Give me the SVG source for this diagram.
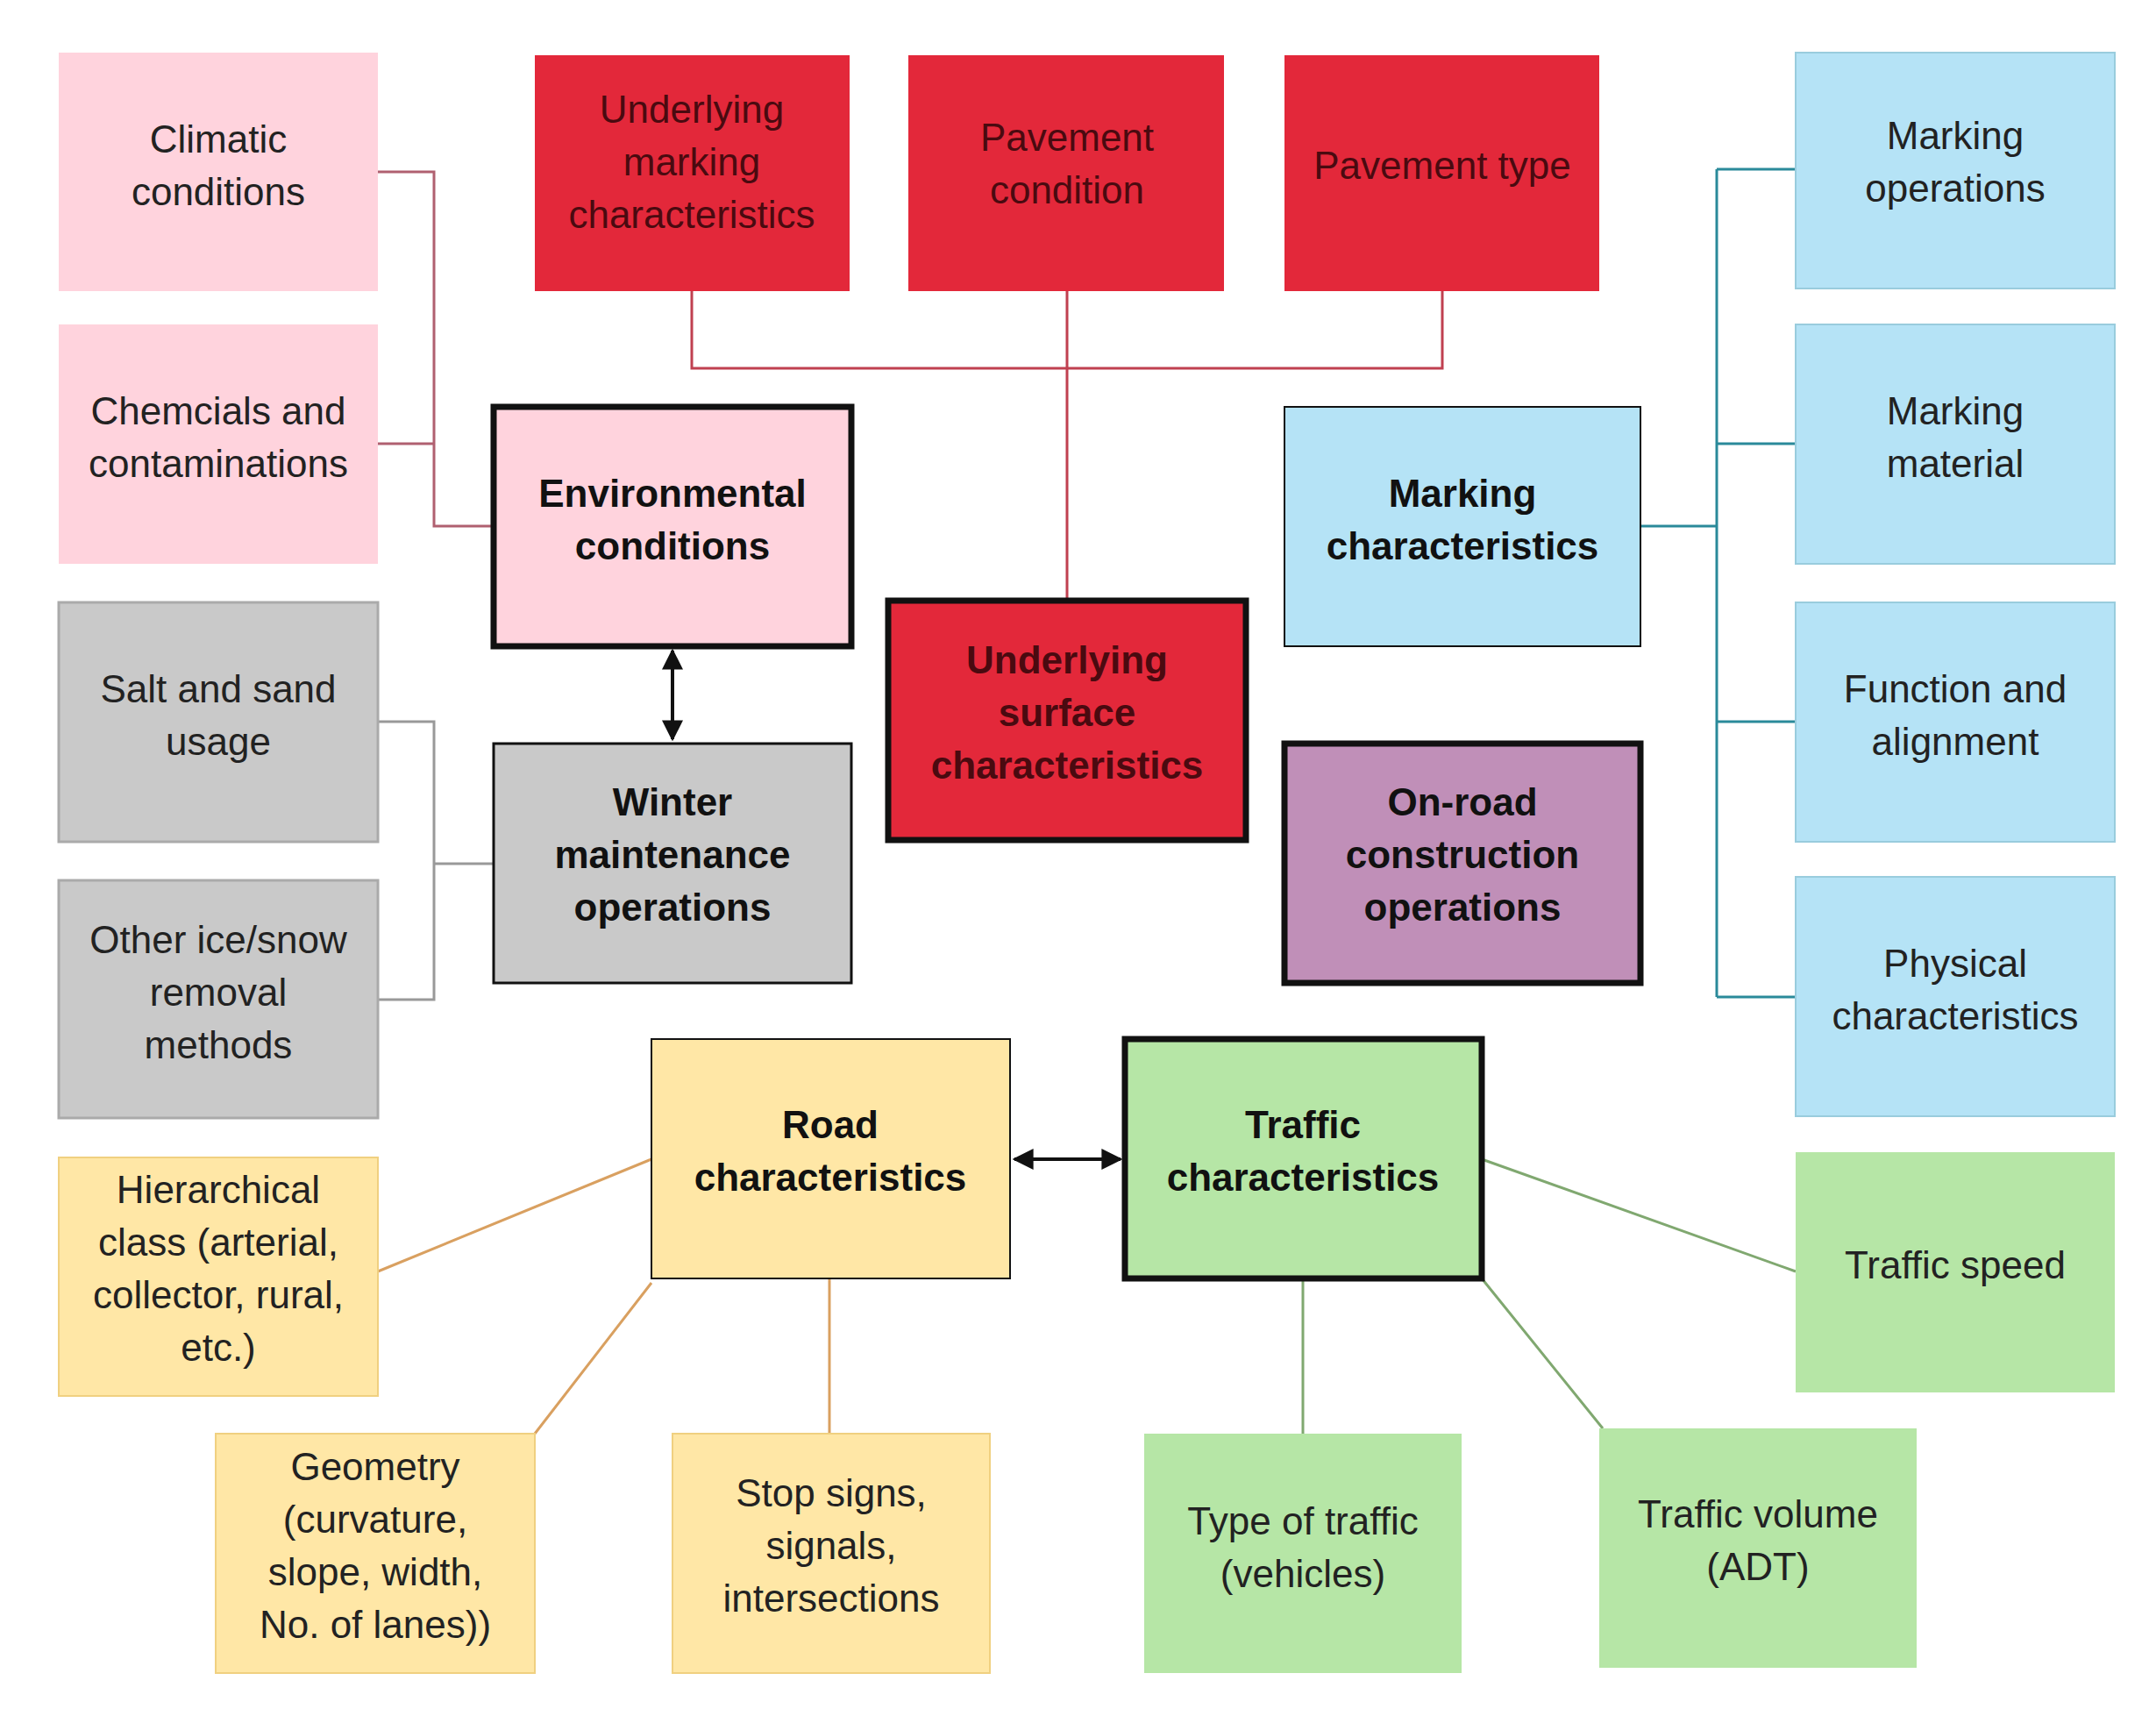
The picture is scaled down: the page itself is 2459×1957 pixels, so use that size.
<svg xmlns="http://www.w3.org/2000/svg" width="2459" height="1957" viewBox="0 0 2459 1957">
<style>
text{font-family:"Liberation Sans",Arial,sans-serif;font-size:44px;text-anchor:middle;fill:#222}
.b{font-weight:bold;fill:#111}
.main{stroke:#111;stroke-width:7}
.pk{fill:#ffd3dd}.rd{fill:#e3283a}.gy{fill:#c9c9c9;stroke:#aaa;stroke-width:3}.bl{fill:#b5e3f6;stroke:#9cd;stroke-width:2}.pu{fill:#c08fb8}.ye{fill:#ffe7a6;stroke:#f0d080;stroke-width:2}.gr{fill:#b6e6a6}
.rt{fill:#4a0a10}
</style>
<defs>
<marker id="ar" viewBox="0 0 10 10" refX="9" refY="5" markerWidth="6" markerHeight="6" orient="auto-start-reverse"><path d="M0,0L10,5L0,10z" fill="#111"/></marker>
</defs>
<rect width="2459" height="1957" fill="#fff"/>
<g id="connectors" fill="none" stroke-width="3">
<path d="M431,196H495V600H563M431,506H495" stroke="#b06070"/>
<path d="M431,823H495V1140H431M495,985H563" stroke="#999"/>
<path d="M789,332V420H1645V332M1217,332V685" stroke="#c04050"/>
<path d="M1871,600H1958M1958,193V1137M1958,193H2048M1958,506H2048M1958,823H2048M1958,1137H2048" stroke="#2a8a9a"/>
<path d="M767,742V843" stroke="#111" stroke-width="4" marker-start="url(#ar)" marker-end="url(#ar)"/>
<path d="M1157,1322H1278" stroke="#111" stroke-width="4" marker-start="url(#ar)" marker-end="url(#ar)"/>
<path d="M743,1322L431,1450M743,1463L610,1635M946,1458V1635" stroke="#d9a060"/>
<path d="M1690,1322L2048,1450M1486,1458V1635M1690,1458L1828,1629" stroke="#80a870"/>
</g>
<g id="climatic"><rect class="pk" x="67" y="60" width="364" height="272"/><text x="249" y="174">Climatic</text><text x="249" y="234">conditions</text></g>
<g id="chemicals"><rect class="pk" x="67" y="370" width="364" height="273"/><text x="249" y="484">Chemcials and</text><text x="249" y="544">contaminations</text></g>
<g id="salt"><rect class="gy" x="67" y="687" width="364" height="273"/><text x="249" y="801">Salt and sand</text><text x="249" y="861">usage</text></g>
<g id="otherice"><rect class="gy" x="67" y="1004" width="364" height="271"/><text x="249" y="1087">Other ice/snow</text><text x="249" y="1147">removal</text><text x="249" y="1207">methods</text></g>
<g id="hier"><rect class="ye" x="67" y="1320" width="364" height="272"/><text x="249" y="1372">Hierarchical</text><text x="249" y="1432">class (arterial,</text><text x="249" y="1492">collector, rural,</text><text x="249" y="1552">etc.)</text></g>
<g id="geometry"><rect class="ye" x="246" y="1635" width="364" height="273"/><text x="428" y="1688">Geometry</text><text x="428" y="1748">(curvature,</text><text x="428" y="1808">slope, width,</text><text x="428" y="1868">No. of lanes))</text></g>
<g id="stop"><rect class="ye" x="767" y="1635" width="362" height="273"/><text x="948" y="1718">Stop signs,</text><text x="948" y="1778">signals,</text><text x="948" y="1838">intersections</text></g>
<g id="typetraffic"><rect class="gr" x="1305" y="1635" width="362" height="273"/><text x="1486" y="1750">Type of traffic</text><text x="1486" y="1810">(vehicles)</text></g>
<g id="volume"><rect class="gr" x="1824" y="1629" width="362" height="273"/><text x="2005" y="1742">Traffic volume</text><text x="2005" y="1802">(ADT)</text></g>
<g id="speed"><rect class="gr" x="2048" y="1314" width="364" height="274"/><text x="2230" y="1458">Traffic speed</text></g>
<g id="physical"><rect class="bl" x="2048" y="1000" width="364" height="273"/><text x="2230" y="1114">Physical</text><text x="2230" y="1174">characteristics</text></g>
<g id="function"><rect class="bl" x="2048" y="687" width="364" height="273"/><text x="2230" y="801">Function and</text><text x="2230" y="861">alignment</text></g>
<g id="material"><rect class="bl" x="2048" y="370" width="364" height="273"/><text x="2230" y="484">Marking</text><text x="2230" y="544">material</text></g>
<g id="operations"><rect class="bl" x="2048" y="60" width="364" height="269"/><text x="2230" y="170">Marking</text><text x="2230" y="230">operations</text></g>
<g id="umarking"><rect class="rd" x="610" y="63" width="359" height="269"/><text class="rt" x="789" y="140">Underlying</text><text class="rt" x="789" y="200">marking</text><text class="rt" x="789" y="260">characteristics</text></g>
<g id="pcond"><rect class="rd" x="1036" y="63" width="360" height="269"/><text class="rt" x="1217" y="172">Pavement</text><text class="rt" x="1217" y="232">condition</text></g>
<g id="ptype"><rect class="rd" x="1465" y="63" width="359" height="269"/><text class="rt" x="1645" y="204">Pavement type</text></g>
<g id="env"><rect class="pk main" x="563" y="464" width="408" height="273"/><text class="b" x="767" y="578">Environmental</text><text class="b" x="767" y="638">conditions</text></g>
<g id="winter"><rect class="gy main" x="563" y="848" width="408" height="273" style="stroke:#111"/><text class="b" x="767" y="930">Winter</text><text class="b" x="767" y="990">maintenance</text><text class="b" x="767" y="1050">operations</text></g>
<g id="surface"><rect class="rd main" x="1013" y="685" width="408" height="273"/><text class="b rt" x="1217" y="768">Underlying</text><text class="b rt" x="1217" y="828">surface</text><text class="b rt" x="1217" y="888">characteristics</text></g>
<g id="markchar"><rect class="bl main" x="1465" y="464" width="406" height="273" style="stroke:#111"/><text class="b" x="1668" y="578">Marking</text><text class="b" x="1668" y="638">characteristics</text></g>
<g id="onroad"><rect class="pu main" x="1465" y="848" width="406" height="273"/><text class="b" x="1668" y="930">On-road</text><text class="b" x="1668" y="990">construction</text><text class="b" x="1668" y="1050">operations</text></g>
<g id="road"><rect class="ye main" x="743" y="1185" width="409" height="273" style="stroke:#111"/><text class="b" x="947" y="1298">Road</text><text class="b" x="947" y="1358">characteristics</text></g>
<g id="traffic"><rect class="gr main" x="1283" y="1185" width="407" height="273"/><text class="b" x="1486" y="1298">Traffic</text><text class="b" x="1486" y="1358">characteristics</text></g>
</svg>
